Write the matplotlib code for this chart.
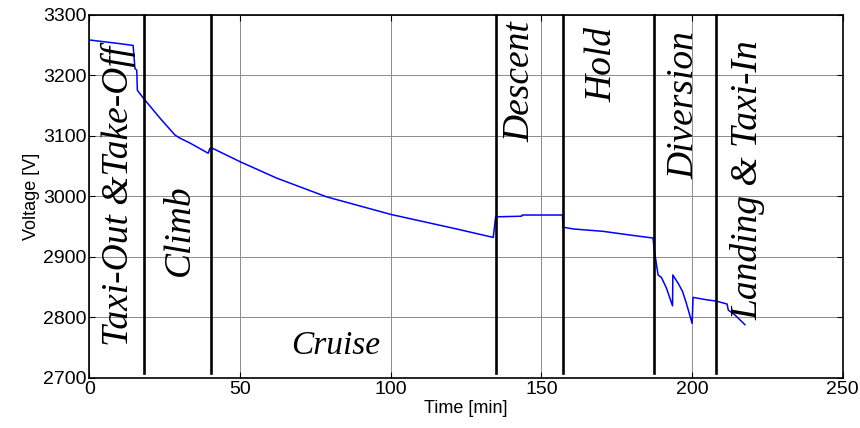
import matplotlib
matplotlib.use("Agg")
import matplotlib.pyplot as plt

# voltage trace
time_min = [0, 5, 10, 14.5, 15.1, 15.7, 15.9, 17.9, 23.4, 28.4, 30, 33.3, 39.4,
            40.0, 40.5, 50, 62.1, 78.7, 100, 121.8, 134,
            134.8, 143.4, 143.6, 157,
            157.1, 160.5, 170.5, 179.3, 187,
            187.6, 188.7, 189.8, 191.5, 193.5, 193.6, 195.4, 196.8, 198.1, 200,
            200.3, 204.8, 207.9, 211.6, 212, 214.2, 217.5]
voltage = [3258, 3255, 3252, 3249, 3211, 3208, 3175, 3162, 3129, 3101, 3096, 3088, 3071,
           3079, 3080, 3057, 3030, 2999, 2970, 2946, 2932,
           2966, 2967, 2969, 2969,
           2949, 2946, 2942, 2936, 2931,
           2906, 2870, 2866, 2848, 2819, 2870, 2856, 2843, 2823, 2790,
           2833, 2829, 2827, 2822, 2812, 2804, 2788]

phase_bounds = [18.2, 40.3, 134.8, 157.0, 187.5, 207.9]

phase_names = ["Taxi-Out &Take-Off", "Climb", "Cruise", "Descent", "Hold",
               "Diversion", "Landing & Taxi-In"]
label_t = [9.5, 30, 81.8, 142.8, 170, 197.5, 218.5]
label_v = [3000, 2944, 2753, 3189, 3217, 3150, 3027]
label_rot = [90, 90, 0, 90, 90, 90, 90]

plt.rcParams['font.family'] = ['Liberation Sans', 'DejaVu Sans']

fig = plt.figure(figsize=(8.6, 4.28), dpi=100)
ax = fig.add_axes([0.104, 0.117, 0.876, 0.849])

ax.plot(time_min, voltage, color='#0000ff', lw=1.1, zorder=3)
for t in phase_bounds:
    ax.plot([t, t], [2708, 3300], color='black', lw=1.9, zorder=4, clip_on=False)

for name, t, v, r in zip(phase_names, label_t, label_v, label_rot):
    ax.text(t, v, name, rotation=r, ha='center', va='center',
            family=['Liberation Serif', 'DejaVu Serif'], style='italic',
            fontsize=24 if r == 0 else 27, zorder=5)

ax.set_xlim(0, 250)
ax.set_ylim(2700, 3300)
ax.set_xticks(range(0, 251, 50))
ax.set_yticks(range(2700, 3301, 100))
ax.grid(True, color='#8c8c8c', lw=0.7)
ax.set_axisbelow(True)
ax.tick_params(direction='in', top=True, right=True, length=4, labelsize=14, pad=2)
for s in ax.spines.values():
    s.set_linewidth(1.2)
ax.set_xlabel("Time [min]", fontsize=13, labelpad=2)
ax.set_ylabel("Voltage [V]", fontsize=13, labelpad=2)

fig.savefig("out.png", dpi=100)
